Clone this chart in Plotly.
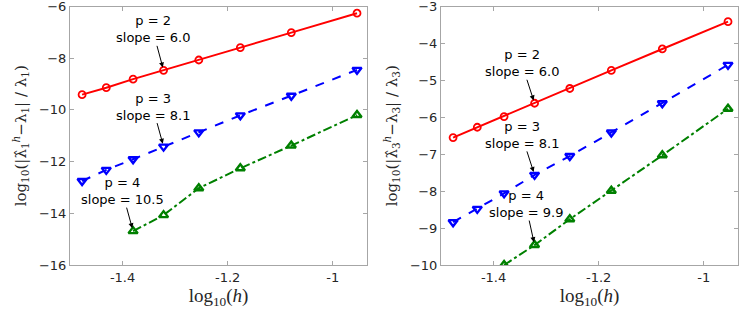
import plotly.graph_objects as go

# log10(h) values
logh = [-1.477, -1.431, -1.380, -1.322, -1.255, -1.176, -1.079, -0.954]
logh_p4 = [-1.380, -1.322, -1.255, -1.176, -1.079, -0.954]

# Left panel: eigenvalue 1
L_p2 = [-9.41, -9.14, -8.81, -8.47, -8.07, -7.59, -7.01, -6.26]
L_p3 = [-12.75, -12.32, -11.91, -11.42, -10.87, -10.21, -9.45, -8.45]
L_p4 = [-14.69, -14.07, -13.03, -12.26, -11.38, -10.20]

# Right panel: eigenvalue 3
R_p2 = [-6.55, -6.27, -5.98, -5.62, -5.22, -4.73, -4.15, -3.41]
R_p3 = [-8.84, -8.48, -8.06, -7.56, -7.05, -6.41, -5.62, -4.58]
R_p4 = [-10.00, -9.46, -8.76, -7.99, -7.03, -5.77]

left_labels = ["p = 2<br>slope = 6.0", "p = 3<br>slope = 8.1", "p = 4<br>slope = 10.5"]
right_labels = ["p = 2<br>slope = 6.0", "p = 3<br>slope = 8.1", "p = 4<br>slope = 9.9"]

xticks = [-1.4, -1.2, -1.0]
xtick_text = ["-1.4", "-1.2", "-1"]
left_yticks = [-16, -14, -12, -10, -8, -6]
right_yticks = [-10, -9, -8, -7, -6, -5, -4, -3]

RED = "#ff0000"
BLUE = "#0000ff"
GREEN = "#008000"

fig = go.Figure()

def add_series(x, y, color, dash, symbol, xa, ya, msize, mlw):
    fig.add_trace(go.Scatter(
        x=x, y=y, mode="lines+markers", xaxis=xa, yaxis=ya,
        line=dict(color=color, width=2, dash=dash),
        marker=dict(symbol=symbol, size=msize, color=color, line=dict(color=color, width=mlw)),
        showlegend=False))

add_series(logh, L_p2, RED, "solid", "circle-open", "x", "y", 7, 1.8)
add_series(logh, L_p3, BLUE, "dash", "triangle-down-open", "x", "y", 8, 2.4)
add_series(logh_p4, L_p4, GREEN, "dashdot", "triangle-up-open", "x", "y", 8, 2.4)
add_series(logh, R_p2, RED, "solid", "circle-open", "x2", "y2", 7, 1.8)
add_series(logh, R_p3, BLUE, "dash", "triangle-down-open", "x2", "y2", 8, 2.4)
add_series(logh_p4, R_p4, GREEN, "dashdot", "triangle-up-open", "x2", "y2", 8, 2.4)

tickfont = dict(family="DejaVu Sans, sans-serif", size=13, color="#262626")
xtitlefont = dict(family="Liberation Serif, DejaVu Serif, serif", size=19, color="#262626")
ytitlefont = dict(family="DejaVu Serif, serif", size=15, color="#262626")
axcol = "#a6a6a6"

def xax(domain, anchor):
    return dict(domain=domain, anchor=anchor, range=[-1.5, -0.935],
                tickvals=xticks, ticktext=xtick_text, ticks="inside", ticklen=4,
                tickcolor=axcol, showline=True, linecolor=axcol, linewidth=1,
                mirror="ticks", showgrid=False, zeroline=False, tickfont=tickfont,
                ticklabeloverflow="allow",
                title=dict(text="log<sub>10</sub>(<i>h</i>)", font=xtitlefont, standoff=2),
                automargin=False)

def yax(domain, anchor, rng, ticks, title):
    return dict(domain=domain, anchor=anchor, range=rng, tickvals=ticks,
                ticks="inside", ticklen=4, tickcolor=axcol, showline=True,
                linecolor=axcol, linewidth=1, mirror="ticks", showgrid=False,
                zeroline=False, tickfont=tickfont, ticklabeloverflow="allow",
                title=dict(text=title, font=ytitlefont, standoff=8),
                automargin=False)

ydom = [1 - 265 / 316, 1 - 6.5 / 316]
fig.update_layout(
    width=743, height=316,
    margin=dict(l=0, r=0, t=0, b=0),
    paper_bgcolor="white", plot_bgcolor="white",
    xaxis=xax([70 / 743, 367 / 743], "y"),
    yaxis=yax(ydom, "x", [-16, -6], left_yticks,
              "log<sub>10</sub>(|λ̂<sub>1</sub><sup><i>h</i></sup>−λ<sub>1</sub>| / λ<sub>1</sub>)"),
    xaxis2=xax([441 / 743, 738 / 743], "y2"),
    yaxis2=yax(ydom, "x2", [-10, -3], right_yticks,
               "log<sub>10</sub>(|λ̂<sub>3</sub><sup><i>h</i></sup>−λ<sub>3</sub>| / λ<sub>3</sub>)"),
)

annfont = dict(family="DejaVu Sans, sans-serif", size=13, color="#000000")

def add_ann(x, y, text, ax, ay, xref, yref):
    fig.add_annotation(x=x, y=y, xref=xref, yref=yref, text=text, showarrow=True,
                       ax=ax, ay=ay, arrowhead=2, arrowsize=1, arrowwidth=1,
                       arrowcolor="black", standoff=3, font=annfont, align="center",
                       borderpad=0)

add_ann(logh[3], L_p2[3], left_labels[0], -11, -41, "x", "y")
add_ann(logh[3], L_p3[3], left_labels[1], -11, -40, "x", "y")
add_ann(logh_p4[0], L_p4[0], left_labels[2], -11, -40, "x", "y")
add_ann(logh[3], R_p2[3], right_labels[0], -13, -40, "x2", "y2")
add_ann(logh[3], R_p3[3], right_labels[1], -13, -40, "x2", "y2")
add_ann(logh_p4[1], R_p4[1], right_labels[2], -9, -41, "x2", "y2")

fig.write_html("out.html", config={"displayModeBar": False},
               post_script="document.body.style.margin='0';document.body.style.padding='0';")
